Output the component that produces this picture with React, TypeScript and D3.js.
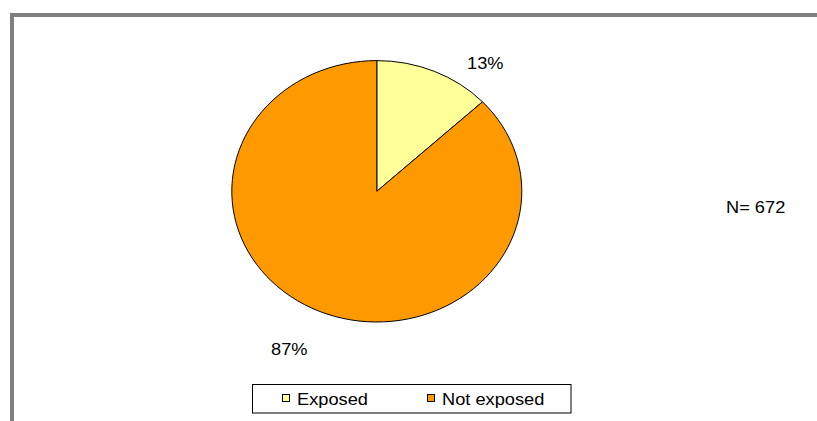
import React from "react";
import * as d3 from "d3";

const categories = ["Exposed", "Not exposed"];
const percents = [13, 87];
const colors = ["#FFFF99", "#FF9900"];
const sampleLabel = "N= 672";

const W = 817;
const H = 421;
const cx = 376.8;
const cy = 191.3;
const rx = 145;
const ry = 130.7;
const FONT = "'Liberation Sans', Arial, sans-serif";
const SX = 1.14;

function Txt({ x, y, children, anchor = "start" }: { x: number; y: number; children: React.ReactNode; anchor?: string }) {
  return (
    <g transform={`translate(${x},${y}) scale(${SX},1)`}>
      <text x={0} y={0} fontFamily={FONT} fontSize={16} fill="#000" textAnchor={anchor as any}>
        {children}
      </text>
    </g>
  );
}

export default function App() {
  const pie = d3.pie<number>().sort(null).value((d) => d)(percents);
  const arc = d3.arc<d3.PieArcDatum<number>>().innerRadius(0).outerRadius(rx);
  const labelPos = [
    { x: 467, y: 69 },
    { x: 271, y: 354.5 },
  ];
  const legendItems = [
    { sx: 282, tx: 297 },
    { sx: 427, tx: 442 },
  ];
  return (
    <svg width={W} height={H} style={{ position: "absolute", left: 0, top: 0, background: "#fff" }}>
      <rect x={0} y={0} width={W} height={H} fill="#fff" />
      <rect x={12} y={15} width={W + 50} height={H + 50} fill="none" stroke="#808080" strokeWidth={4} />
      <g transform={`translate(${cx},${cy}) scale(1,${ry / rx})`}>
        {pie.map((p, i) => (
          <path key={categories[i]} d={arc(p) || ""} fill={colors[i]} stroke="#000" strokeWidth={1} vectorEffect="non-scaling-stroke" />
        ))}
      </g>
      {pie.map((p, i) => (
        <Txt key={"l" + i} x={labelPos[i].x} y={labelPos[i].y}>
          {`${percents[i]}%`}
        </Txt>
      ))}
      <Txt x={726} y={212.5}>{sampleLabel}</Txt>
      <rect x={252.5} y={384.5} width={318.5} height={28.5} fill="#fff" stroke="#000" strokeWidth={1} />
      {categories.map((c, i) => (
        <g key={c}>
          <rect x={legendItems[i].sx + 0.5} y={394.5} width={7} height={7} fill={colors[i]} stroke="#000" strokeWidth={1} />
          <Txt x={legendItems[i].tx} y={405}>{c}</Txt>
        </g>
      ))}
    </svg>
  );
}
